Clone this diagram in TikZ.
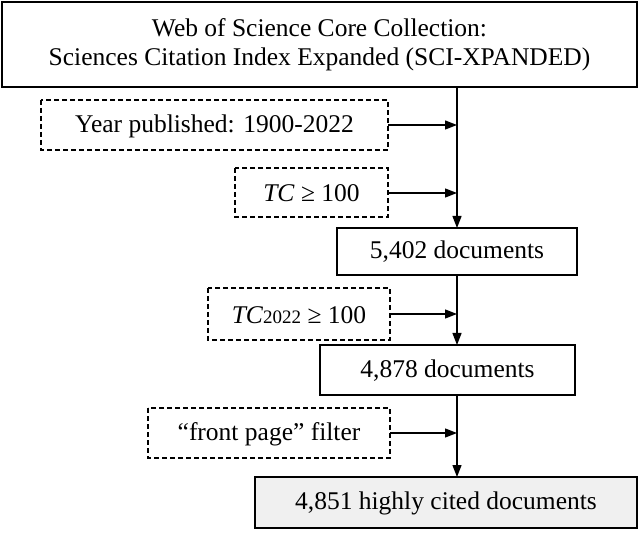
\documentclass[tikz,border=0pt]{standalone}
\usepackage{fontspec}
\setmainfont{Liberation Serif}
\usetikzlibrary{arrows.meta}
\begin{document}
\begin{tikzpicture}[x=1pt,y=-1pt,
  solidbox/.style={draw,line width=1.3pt,inner sep=0pt},
  dashbox/.style={draw,dashed,dash pattern=on 5pt off 3pt,line width=1.3pt,inner sep=0pt},
  lbl/.style={font=\fontsize{25.5}{29}\selectfont,align=center},
  arr/.style={-{Triangle[length=12pt,width=9pt]},line width=1.3pt}]
\useasboundingbox (0,0) rectangle (640,545);
\draw[solidbox] (2,2) rectangle (637,87);
\node[lbl] (wos) at (319.5,44.5) {Web of Science Core Collection:\\Sciences Citation Index Expanded (SCI-XPANDED)};
\draw[dashbox] (41,100) rectangle (388,150);
\node[lbl] (f1) at (214.5,126) {Year published: 1900-2022};
\draw[dashbox] (235,168) rectangle (388,217);
\node[lbl] (f2) at (311.5,193) {\textit{TC} ≥ 100};
\draw[solidbox] (337,228) rectangle (577,275);
\node[lbl] (d1) at (457,252) {5,402 documents};
\draw[dashbox] (208,288) rectangle (390,340);
\node[lbl] (f3) at (299,315) {\textit{TC}{\fontsize{19}{21}\selectfont 2022} ≥ 100};
\draw[solidbox] (320,345) rectangle (575,395);
\node[lbl] (d2) at (447.5,371) {4,878 documents};
\draw[dashbox] (148,408) rectangle (390,458);
\node[lbl] (f4) at (269,434) {“front page” filter};
\draw[solidbox,fill=black!6] (255,477) rectangle (637,528);
\node[lbl] (d3) at (446,503.5) {4,851 highly cited documents};
\coordinate (t0) at (457,87);
\coordinate (t1) at (457,228);
\coordinate (t2) at (457,345);
\coordinate (t3) at (457,477);
\draw[arr] (t0) -- (t1);
\draw[arr] (457,275) -- (t2);
\draw[arr] (457,395) -- (t3);
\draw[arr] (388,125) -- (457,125);
\draw[arr] (388,193) -- (457,193);
\draw[arr] (390,314) -- (457,314);
\draw[arr] (390,433) -- (457,433);
\end{tikzpicture}
\end{document}
